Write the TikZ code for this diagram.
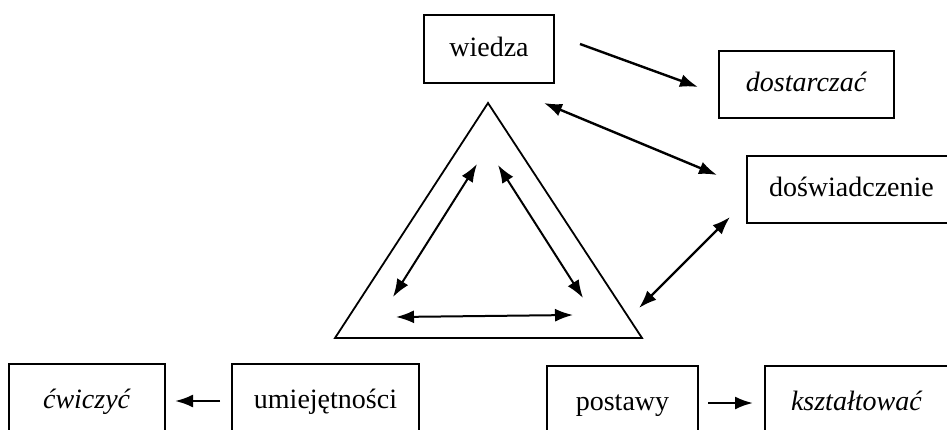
\documentclass[tikz,border=0pt]{standalone}
\usepackage{fontspec}
\setmainfont{Liberation Serif}
\usetikzlibrary{arrows.meta,positioning}
\tikzset{
    block/.style = {draw, rectangle, line width=1pt,
        minimum height=37pt, inner xsep=0pt, align=center,
        text height=0.75em, text depth=0.05em},
    wideblock/.style = {block, anchor=west, text width=100pt, align=left},
    arrow/.style = {draw, line width=1.2pt, ->},
    darrow/.style = {draw, line width=1.2pt, <->},
    inarrow/.style = {draw, line width=1pt, <->},
    tri/.style = {draw, line width=0.9pt, line join=miter}
}

\begin{document}
\begin{tikzpicture}[x=0.5pt, y=-0.5pt, >={Latex[length=9pt,width=6.5pt]},
        every node/.style={font=\fontsize{14}{16}\selectfont}]
        \clip (0,0) rectangle (947,429);
        \node [block, minimum width=65pt, minimum height=34pt] (wiedza) at (489,49) {wiedza};
        \node [block, minimum width=87.5pt, minimum height=33.5pt] (dostarczac) at (806.5,84.5) {\textit{dostarczać}};
        \node [wideblock, inner xsep=11pt, minimum height=33.5pt] (doswiadczenie) at (746,189.5) {doświadczenie};
        \node [block, minimum width=93.5pt] (umiejetnosci) at (325.5,401) {umiejętności};
        \node [block, minimum width=78pt, left=32.5pt of umiejetnosci] (cwiczyc) {\textit{ćwiczyć}};
        \node [block, minimum width=75.5pt] (postawy) at (622.5,403) {postawy};
        \node [wideblock, inner xsep=13pt, right=32.5pt of postawy] (ksztaltowac) {\textit{kształtować}};
        % triangle
        \coordinate (apex) at (488,103);
        \coordinate (baseL) at (335,338);
        \coordinate (baseR) at (642,338);
        \draw [tri] (apex) -- (baseL) -- (baseR) -- cycle;
        \coordinate (inL1) at (393,297);
        \coordinate (inL2) at (477,164);
        \coordinate (inR1) at (498,165);
        \coordinate (inR2) at (583,298);
        \coordinate (inB1) at (396,317);
        \coordinate (inB2) at (573,315);
        \draw [inarrow] (inL1) -- (inL2);
        \draw [inarrow] (inR1) -- (inR2);
        \draw [inarrow] (inB1) -- (inB2);
        % outer arrows
        \coordinate (w1) at (580,44);
        \coordinate (w2) at (698,87);
        \coordinate (d1) at (544,103);
        \coordinate (d2) at (717,175);
        \coordinate (t1) at (730,217);
        \coordinate (t2) at (639,308);
        \draw [arrow] (w1) -- (w2);
        \draw [darrow] (d1) -- (d2);
        \draw [darrow] (t1) -- (t2);
        \draw [arrow, shorten <=5.5pt, shorten >=4.5pt] (umiejetnosci) -- (cwiczyc);
        \draw [arrow, shorten <=4.5pt, shorten >=5.5pt] (postawy) -- (ksztaltowac);
\end{tikzpicture}
\end{document}
